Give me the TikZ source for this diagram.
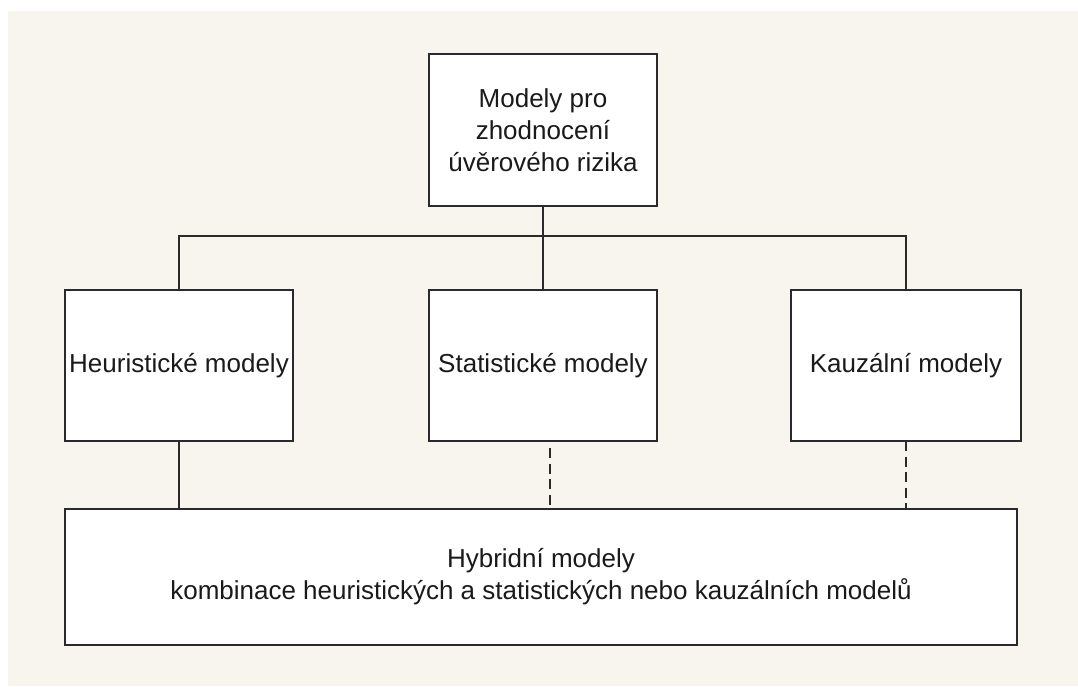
\documentclass[tikz,border=0pt]{standalone}
\usepackage{fontspec}
\setmainfont{Liberation Sans}
\definecolor{paper}{HTML}{F8F5EE}
\definecolor{ink}{HTML}{2A2A2A}
\definecolor{txt}{HTML}{1A1A1A}
\begin{document}
\begin{tikzpicture}[x=1pt,y=-1pt,
  modelbox/.style={draw=ink, fill=white, line width=1.8pt, rectangle,
    inner sep=0pt, outer sep=0pt, align=center, text=txt,
    font=\fontsize{26}{32}\selectfont},
  link/.style={draw=ink, line width=1.8pt},
  weaklink/.style={link, dash pattern=on 10pt off 5.5pt}]
  % canvas
  \fill[white] (0,0) rectangle (1078,686);
  \fill[paper] (8,11) rectangle (1078,686);
  \useasboundingbox (0,0) rectangle (1078,686);

  % boxes
  \node[modelbox, minimum width=228, minimum height=152] (root) at (543,130)
    {Modely pro\\zhodnocení\\úvěrového rizika};
  \node[modelbox, minimum width=228, minimum height=151] (heur) at (179,365.5)
    {Heuristické modely};
  \node[modelbox, minimum width=228, minimum height=151] (stat) at (543,365.5)
    {Statistické modely};
  \node[modelbox, minimum width=230, minimum height=151] (kauz) at (906,365.5)
    {Kauzální modely};
  \node[modelbox, minimum width=952, minimum height=136] (hyb) at (541,577)
    {Hybridní modely\\kombinace heuristických a statistických nebo kauzálních modelů};

  % tree from the root box
  \coordinate (bus) at (543,236);
  \draw[link] (root.south) -- (bus);
  \draw[link] (heur.north) |- (bus) -| (kauz.north);
  \draw[link] (bus) -- (stat.north);

  % links into the hybrid box
  \draw[link] (heur.south) -- (heur.south |- hyb.north);
  \coordinate (statfoot) at ([xshift=7pt,yshift=-7pt]stat.south);
  \draw[weaklink] (statfoot) -- (statfoot |- hyb.north);
  \draw[weaklink] (kauz.south) -- (kauz.south |- hyb.north);
\end{tikzpicture}
\end{document}
